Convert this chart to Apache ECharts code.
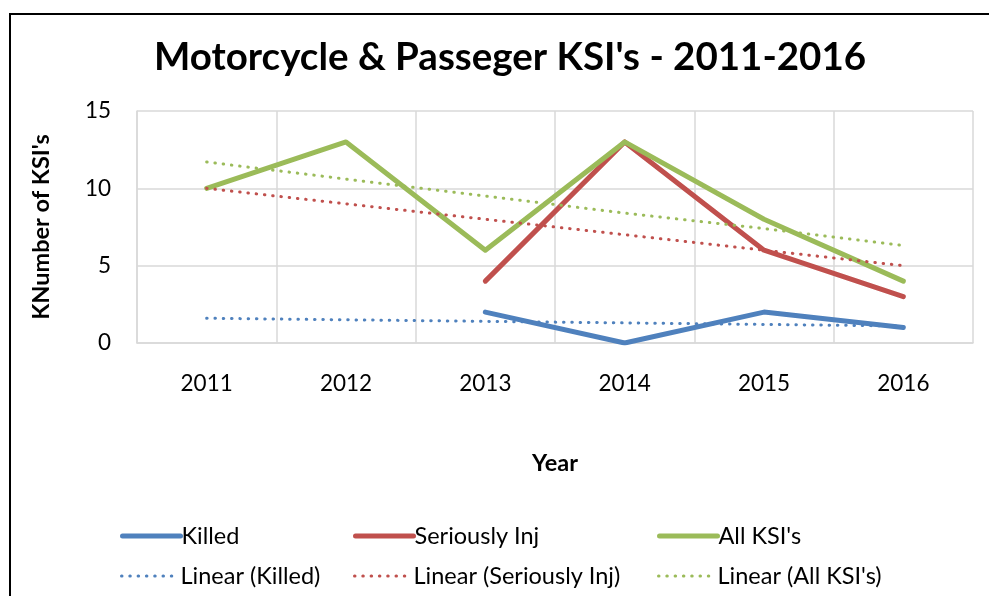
<!DOCTYPE html>
<html>
<head>
<meta charset="utf-8">
<script src="https://cdn.jsdelivr.net/npm/echarts@6/dist/echarts.min.js"></script>
<style>
  html, body { margin: 0; padding: 0; background: #fff; }
  #main { width: 989px; height: 596px; }
</style>
</head>
<body>
<div id="main"></div>
<script>
var years = ['2011', '2012', '2013', '2014', '2015', '2016'];
var killed = [null, null, 2, 0, 2, 1];
var seriouslyInj = [null, null, 4, 13, 6, 3];
var allKsi = [10, 13, 6, 13, 8, 4];
// trendline values
var trendKilled = [1.6, 1.5, 1.4, 1.3, 1.2, 1.1];
var trendSerious = [10, 9, 8, 7, 6, 5];
var trendAll = [11.7, 10.6, 9.5, 8.4, 7.4, 6.3];

var FONT = 'Lato';
var BLUE = '#4f81bd', RED = '#c0504d', GREEN = '#9bbb59';
var DOTS = [0.5, 7.8];

var myChart = echarts.init(document.getElementById('main'));

function solid(name, data, color) {
    return {
        name: name,
        type: 'line',
        data: data,
        symbol: 'none',
        connectNulls: false,
        lineStyle: { color: color, width: 5, cap: 'round', join: 'round' },
        itemStyle: { color: color }
    };
}
function dotted(name, data, color) {
    return {
        name: name,
        type: 'line',
        data: data,
        symbol: 'none',
        lineStyle: { color: color, width: 3, type: DOTS, cap: 'round' },
        itemStyle: { color: color }
    };
}
function leg(name, left, top, isTrend) {
    return {
        data: [name],
        left: left,
        top: top,
        itemWidth: 58,
        itemHeight: 10,
        itemGap: 0,
        itemStyle: { opacity: 0 },
        lineStyle: isTrend
            ? { width: 3, type: DOTS, cap: 'round' }
            : { width: 5, cap: 'round' },
        textStyle: { fontFamily: FONT, fontSize: 23.5, color: '#000', padding: [0, 0, 0, -4] }
    };
}

var option = {
    backgroundColor: '#fff',
    animation: false,
    title: {
        text: "Motorcycle & Passeger KSI's - 2011-2016",
        left: 149,
        top: 33,
        textStyle: { fontFamily: FONT, fontSize: 38.5, fontWeight: 'bold', color: '#000' }
    },
    graphic: [{
        type: 'rect',
        shape: { x: 10, y: 14, width: 1200, height: 1000 },
        style: { fill: 'none', stroke: '#000', lineWidth: 2 }
    }],
    legend: [
        leg('Killed', 115, 519, false),
        leg('Seriously Inj', 348, 519, false),
        leg("All KSI's", 652, 519, false),
        leg('Linear (Killed)', 115, 559, true),
        leg('Linear (Seriously Inj)', 348, 559, true),
        leg("Linear (All KSI's)", 652, 559, true)
    ],
    grid: { left: 137, right: 16, top: 111, height: 232 },
    xAxis: {
        type: 'category',
        data: years,
        boundaryGap: true,
        name: 'Year',
        nameLocation: 'middle',
        nameGap: 108,
        nameTextStyle: { fontFamily: FONT, fontSize: 23.5, fontWeight: 'bold', color: '#000' },
        axisLine: { lineStyle: { color: '#d9d9d9', width: 1.5 } },
        axisTick: { show: false },
        splitLine: { show: true, interval: 0, lineStyle: { color: '#d9d9d9', width: 1.5 } },
        axisLabel: { fontFamily: FONT, fontSize: 22.5, color: '#000', margin: 29, interval: 0 }
    },
    yAxis: {
        type: 'value',
        min: 0,
        max: 15,
        interval: 5,
        name: "KNumber of KSI's",
        nameLocation: 'middle',
        nameGap: 84,
        nameTextStyle: { fontFamily: FONT, fontSize: 23.5, fontWeight: 'bold', color: '#000' },
        axisLine: { show: true, lineStyle: { color: '#d9d9d9', width: 1.5 } },
        axisTick: { show: false },
        splitLine: { lineStyle: { color: '#d9d9d9', width: 1.5 } },
        axisLabel: { fontFamily: FONT, fontSize: 22.5, color: '#000', margin: 26 }
    },
    series: [
        solid('Killed', killed, BLUE),
        solid('Seriously Inj', seriouslyInj, RED),
        solid("All KSI's", allKsi, GREEN),
        dotted('Linear (Killed)', trendKilled, BLUE),
        dotted('Linear (Seriously Inj)', trendSerious, RED),
        dotted("Linear (All KSI's)", trendAll, GREEN)
    ]
};

myChart.setOption(option);
</script>
</body>
</html>
